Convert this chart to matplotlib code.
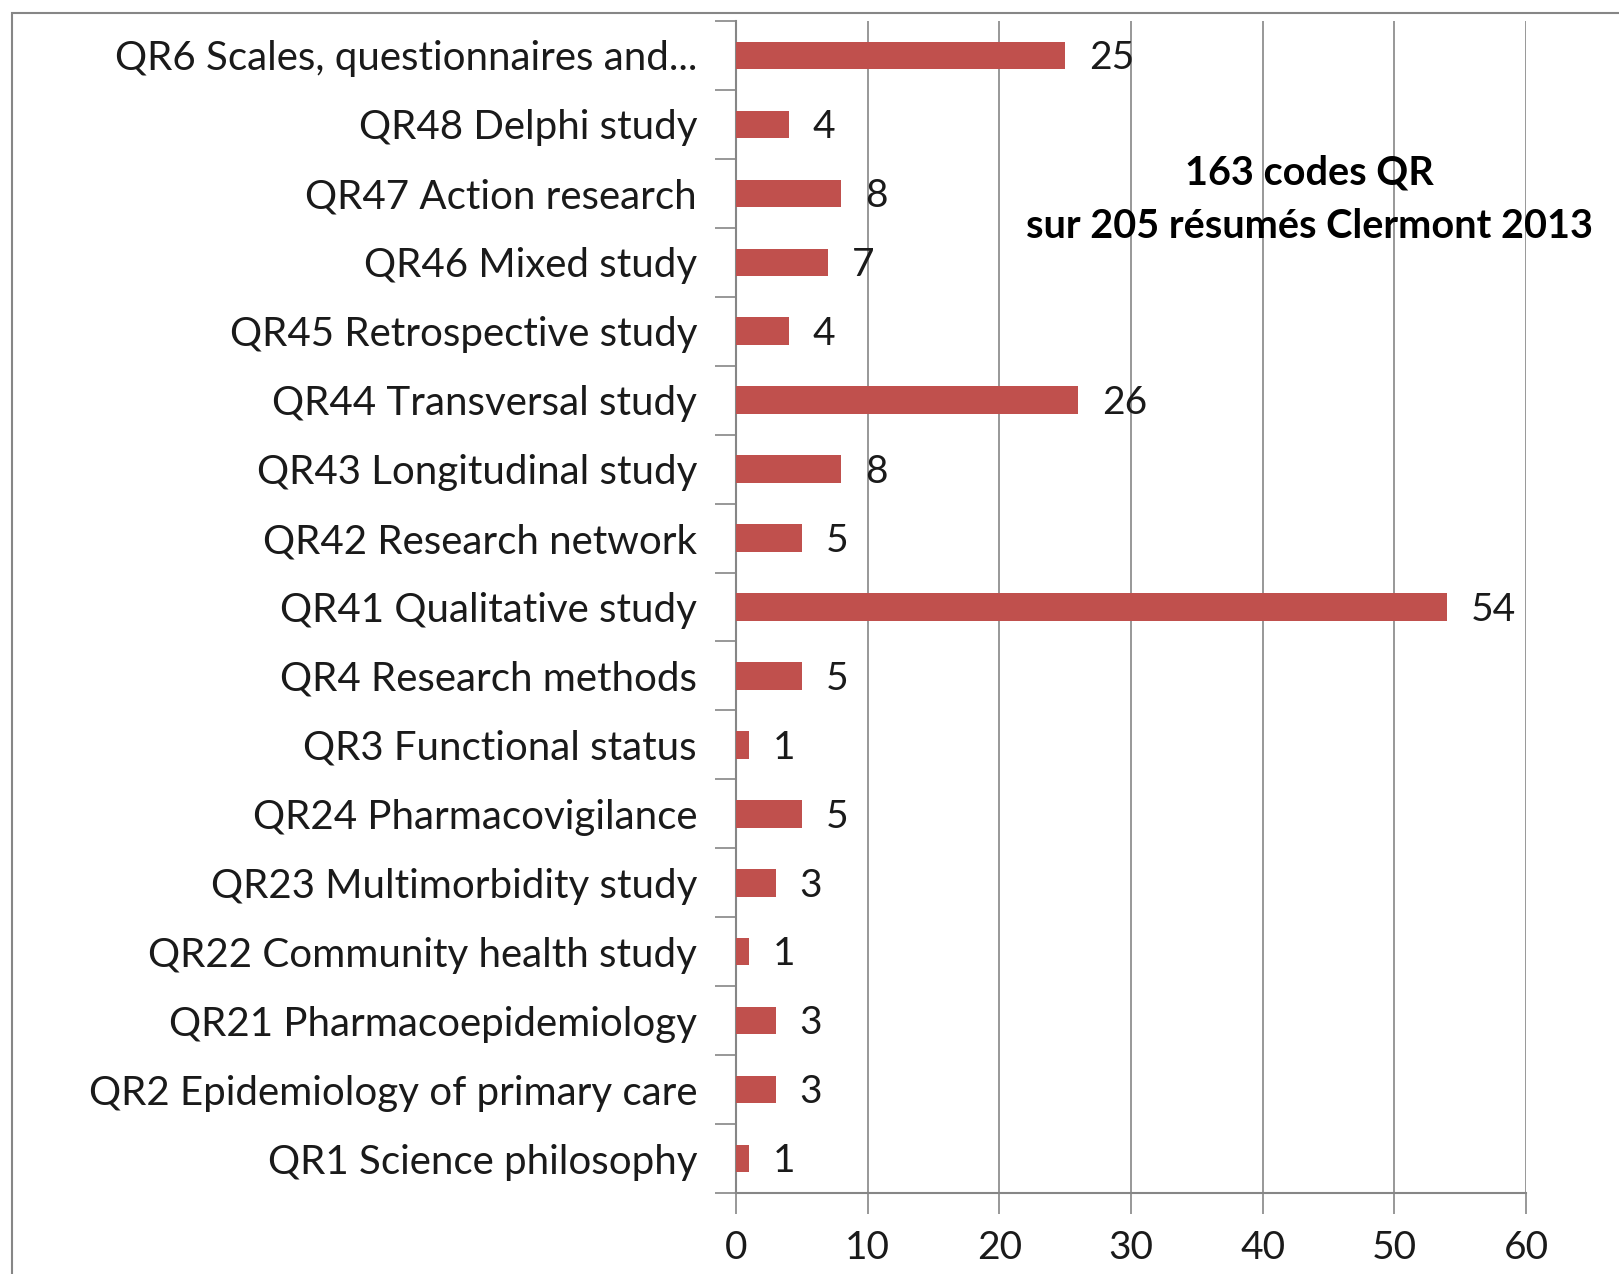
import matplotlib.pyplot as plt
from matplotlib.patches import Rectangle

# categories from bottom to top
categories = ['QR1 Science philosophy', 'QR2 Epidemiology of primary care',
              'QR21 Pharmacoepidemiology', 'QR22 Community health study',
              'QR23 Multimorbidity study', 'QR24 Pharmacovigilance',
              'QR3 Functional status', 'QR4 Research methods',
              'QR41 Qualitative study', 'QR42 Research network',
              'QR43 Longitudinal study', 'QR44 Transversal study',
              'QR45 Retrospective study', 'QR46 Mixed study',
              'QR47 Action research', 'QR48 Delphi study',
              'QR6 Scales, questionnaires and...']
counts = [1, 3, 3, 1, 3, 5, 1, 5, 54, 5, 8, 26, 4, 7, 8, 4, 25]
x_ticks = [0, 10, 20, 30, 40, 50, 60]
note = '163 codes QR\nsur 205 résumés Clermont 2013'

plt.rcParams['font.family'] = ['Lato', 'DejaVu Sans']
grey = '#868686'
red = '#C0504D'

fig = plt.figure(figsize=(16.19, 12.74), dpi=100)
ax = fig.add_axes([0.4546, 0.0636, 0.4880, 0.9199])

# chart area border (cut off on right and bottom)
fig.patches.append(Rectangle((0.0075, -0.2), 1.5, 1.19, transform=fig.transFigure,
                             fill=False, edgecolor=grey, linewidth=1.5))

pos = list(range(len(categories)))
ax.barh(pos, counts, height=0.4, color=red, zorder=3)
for y, v in zip(pos, counts):
    ax.annotate(str(v), (v, y), xytext=(17, -2), textcoords='offset points',
                ha='left', va='center', fontsize=28, color='#1a1a1a', zorder=4)

ax.set_xlim(0, 60)
ax.set_ylim(-0.5, len(categories) - 0.5)
ax.set_xticks(x_ticks)
ax.set_yticks(pos)
ax.set_yticklabels(categories)
ax.set_yticks([p - 0.5 for p in pos] + [len(categories) - 0.5], minor=True)

ax.tick_params(axis='y', which='major', length=0, pad=28, labelsize=29, labelcolor='#1a1a1a')
ax.tick_params(axis='y', which='minor', length=15, width=1.2, color=grey, direction='out')
ax.tick_params(axis='x', which='major', length=15, width=1.2, color=grey, pad=12,
               labelsize=28, labelcolor='#1a1a1a')

ax.grid(axis='x', color=grey, linewidth=1.2, zorder=0)
ax.set_axisbelow(True)
for s in ['top', 'right']:
    ax.spines[s].set_visible(False)
for s in ['left', 'bottom']:
    ax.spines[s].set_color(grey)
    ax.spines[s].set_linewidth(1.5)

ax.text(0.7255, 0.8476, note, transform=ax.transAxes, ha='center', va='center',
        fontsize=28.5, fontweight='bold', linespacing=1.55, zorder=5)

fig.savefig('out.png', dpi=100)
